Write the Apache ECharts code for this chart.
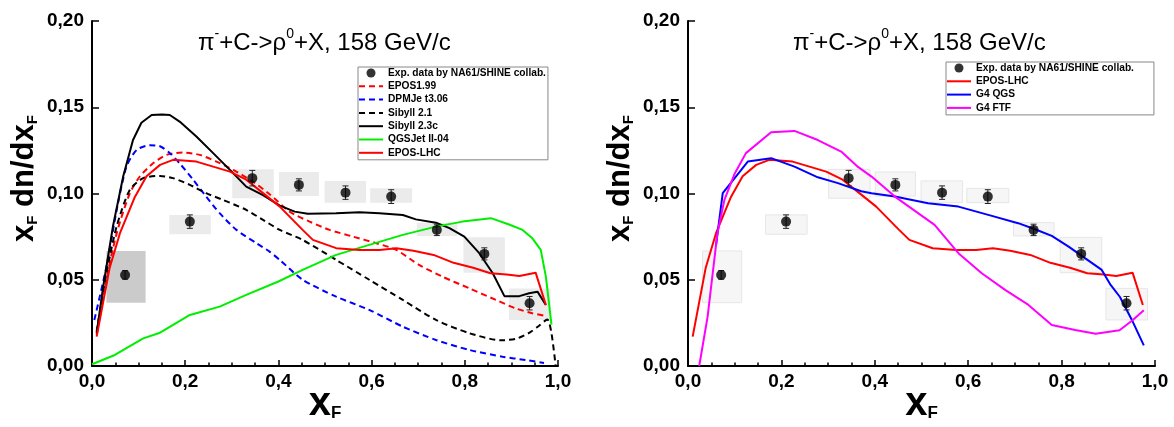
<!DOCTYPE html>
<html><head><meta charset="utf-8">
<script src="https://cdn.jsdelivr.net/npm/echarts@6/dist/echarts.min.js"></script>
<style>html,body{margin:0;padding:0;background:#fff}#c{width:1174px;height:427px}</style>
</head><body><div id="c"></div>
<script>
// ---------- data ----------
const expX   = [0.071, 0.21, 0.344, 0.444, 0.544, 0.642, 0.74, 0.842, 0.939];
const expY   = [0.0528, 0.0837, 0.1089, 0.105, 0.1005, 0.0982, 0.0789, 0.065, 0.0364];
const expErr = [0.0025, 0.0039, 0.0045, 0.0035, 0.0039, 0.004, 0.0033, 0.0035, 0.0039];
const boxXLo = [0.031, 0.166, 0.301, 0.401, 0.499, 0.597, 0.697, 0.797, 0.895];
const boxXHi = [0.115, 0.255, 0.390, 0.487, 0.588, 0.687, 0.784, 0.886, 0.984];
const boxYLo = [0.0367, 0.0764, 0.0973, 0.0985, 0.0947, 0.0947, 0.0754, 0.0541, 0.0267];
const boxYHi = [0.0667, 0.0876, 0.1140, 0.1125, 0.1073, 0.1030, 0.0831, 0.0746, 0.0450];

const epos199 = [[0.01,0.018],[0.031,0.05],[0.053,0.077],[0.081,0.1],[0.103,0.11],[0.131,0.1175],[0.16,0.1224],[0.195,0.1237],[0.231,0.1224],[0.267,0.1185],[0.303,0.1137],[0.345,0.1069],[0.381,0.0996],[0.424,0.0895],[0.467,0.0837],[0.51,0.0789],[0.56,0.075],[0.61,0.0712],[0.653,0.0673],[0.702,0.0586],[0.752,0.0518],[0.809,0.0451],[0.867,0.0383],[0.909,0.0334],[0.945,0.0306],[0.974,0.029]];
const dpmjet = [[0.005,0.0267],[0.031,0.0576],[0.053,0.0905],[0.074,0.1156],[0.096,0.1253],[0.124,0.128],[0.146,0.1274],[0.167,0.1234],[0.188,0.1175],[0.217,0.108],[0.245,0.0982],[0.274,0.0886],[0.31,0.0789],[0.353,0.0712],[0.381,0.0663],[0.403,0.0615],[0.452,0.05],[0.524,0.0402],[0.595,0.0325],[0.667,0.0228],[0.738,0.0151],[0.81,0.0093],[0.881,0.0054],[0.93,0.0035],[0.97,0.0018]];
const sibyll21 = [[0.01,0.02],[0.031,0.0538],[0.053,0.081],[0.081,0.102],[0.11,0.1089],[0.146,0.1102],[0.174,0.1089],[0.21,0.105],[0.245,0.1002],[0.281,0.0963],[0.331,0.0905],[0.367,0.0847],[0.403,0.0789],[0.452,0.0731],[0.524,0.0615],[0.595,0.05],[0.667,0.0383],[0.738,0.0267],[0.81,0.019],[0.878,0.0149],[0.91,0.0158],[0.94,0.0195],[0.96,0.0235],[0.977,0.027],[0.986,0.019],[0.995,0.0]];
const sibyll23 = [[0.01,0.019],[0.024,0.046],[0.045,0.081],[0.067,0.11],[0.088,0.131],[0.106,0.141],[0.128,0.1455],[0.15,0.1458],[0.167,0.1455],[0.188,0.1417],[0.224,0.133],[0.26,0.1234],[0.296,0.1137],[0.331,0.104],[0.367,0.099],[0.403,0.093],[0.435,0.0895],[0.463,0.0882],[0.524,0.0885],[0.574,0.0891],[0.617,0.0885],[0.667,0.0875],[0.695,0.085],[0.738,0.0831],[0.767,0.0799],[0.799,0.075],[0.831,0.0654],[0.86,0.0538],[0.885,0.0405],[0.917,0.0405],[0.938,0.0422],[0.956,0.0431],[0.974,0.0354]];
const qgsjet = [[0.0,0.001],[0.049,0.0064],[0.11,0.016],[0.146,0.0193],[0.174,0.0238],[0.21,0.0296],[0.274,0.0344],[0.331,0.0412],[0.4,0.049],[0.452,0.0557],[0.524,0.0644],[0.595,0.0702],[0.667,0.076],[0.738,0.0808],[0.795,0.0837],[0.856,0.0857],[0.895,0.082],[0.924,0.0789],[0.945,0.074],[0.963,0.0673],[0.974,0.0518],[0.986,0.024]];
const eposLhc = [[0.01,0.017],[0.024,0.037],[0.038,0.057],[0.06,0.077],[0.092,0.098],[0.117,0.11],[0.146,0.1166],[0.174,0.1195],[0.224,0.1185],[0.26,0.1156],[0.296,0.1127],[0.331,0.108],[0.367,0.1002],[0.403,0.0924],[0.424,0.0866],[0.452,0.0789],[0.474,0.0731],[0.524,0.0683],[0.574,0.0673],[0.617,0.0673],[0.653,0.0683],[0.69,0.0668],[0.733,0.0644],[0.776,0.0598],[0.818,0.057],[0.855,0.0538],[0.89,0.053],[0.917,0.0522],[0.952,0.0541],[0.974,0.0354]];
const g4qgs = [[0.06,0.07],[0.0744,0.1002],[0.128,0.1185],[0.178,0.1205],[0.228,0.1156],[0.278,0.1094],[0.321,0.106],[0.371,0.1013],[0.393,0.1002],[0.443,0.0982],[0.514,0.0944],[0.579,0.0924],[0.643,0.0876],[0.707,0.0828],[0.743,0.0793],[0.779,0.0754],[0.815,0.0692],[0.85,0.0625],[0.886,0.0557],[0.905,0.047],[0.925,0.04],[0.95,0.027],[0.976,0.012]];
const g4ftf = [[0.024,0.0],[0.042,0.0286],[0.063,0.077],[0.078,0.0963],[0.099,0.111],[0.124,0.1234],[0.178,0.1355],[0.228,0.1363],[0.278,0.131],[0.328,0.1243],[0.364,0.1154],[0.393,0.1098],[0.443,0.0982],[0.528,0.0818],[0.579,0.0654],[0.629,0.0538],[0.679,0.0441],[0.729,0.0354],[0.779,0.0238],[0.829,0.0209],[0.873,0.0187],[0.924,0.0207],[0.952,0.0265],[0.976,0.0323]];

const xTicks = [0, 0.2, 0.4, 0.6, 0.8, 1.0];
const yTicks = [0, 0.05, 0.1, 0.15, 0.2];
const expName = 'Exp. data by NA61/SHINE collab.';
const leftNames = [expName, 'EPOS1.99', 'DPMJe t3.06', 'Sibyll 2.1', 'Sibyll 2.3c', 'QGSJet II-04', 'EPOS-LHC'];
const rightNames = [expName, 'EPOS-LHC', 'G4 QGS', 'G4 FTF'];

// ---------- chart ----------
const FONT = '"Liberation Sans", Arial, sans-serif';
const chart = echarts.init(document.getElementById('c'), null, {renderer: 'canvas'});

function xAxis(gi) {
  return {
    type: 'value', gridIndex: gi, min: xTicks[0], max: xTicks[xTicks.length-1], interval: xTicks[1]-xTicks[0],
    name: '{b|x}{s|F}', nameLocation: 'middle', nameGap: 18, nameMoveOverlap: false,
    nameTextStyle: {rich: {
      b: {fontFamily: FONT, fontWeight: 'bold', fontSize: 40, lineHeight: 38, verticalAlign: 'top', color: '#000'},
      s: {fontFamily: FONT, fontWeight: 'bold', fontSize: 17, lineHeight: 17, padding: [37,0,0,0], verticalAlign: 'bottom', color: '#000'}
    }},
    axisLine: {show: true, onZero: false, lineStyle: {color: '#000', width: 2}},
    axisTick: {show: true, inside: true, length: 6, lineStyle: {color: '#000', width: 1.5}},
    minorTick: {show: true, splitNumber: 4, length: 3.5, lineStyle: {color: '#000', width: 1.5}},
    splitLine: {show: false},
    axisLabel: {fontFamily: FONT, fontWeight: 'bold', fontSize: 19, color: '#000', margin: 6,
      formatter: v => v.toFixed(1).replace('.', ',')}
  };
}
function yAxis(gi) {
  return {
    type: 'value', gridIndex: gi, min: yTicks[0], max: yTicks[yTicks.length-1], interval: yTicks[1]-yTicks[0],
    name: '{b|x}{s|F}{b| dn/dx}{s|F}', nameLocation: 'middle', nameGap: 52, nameRotate: 90,
    nameTextStyle: {padding: [0, 0, 0, 30], rich: {
      b: {fontFamily: FONT, fontWeight: 'bold', fontSize: 31, lineHeight: 31, verticalAlign: 'top', color: '#000'},
      s: {fontFamily: FONT, fontWeight: 'bold', fontSize: 15, lineHeight: 15, padding: [27,0,0,0], verticalAlign: 'bottom', color: '#000'}
    }},
    axisLine: {show: true, onZero: false, lineStyle: {color: '#000', width: 2}},
    axisTick: {show: true, inside: true, length: 7, lineStyle: {color: '#000', width: 1.5}},
    splitLine: {show: false},
    axisLabel: {fontFamily: FONT, fontWeight: 'bold', fontSize: 19, color: '#000', margin: 8,
      formatter: v => v.toFixed(2).replace('.', ',')}
  };
}
function lineSeries(name, data, color, dashed, gi) {
  return {type: 'line', name, data, xAxisIndex: gi, yAxisIndex: gi, showSymbol: false, symbol: 'none',
    smooth: dashed ? 0.25 : false, z: 3, silent: true,
    lineStyle: {color, width: 2, type: dashed ? [6, 4] : 'solid'}, itemStyle: {color}};
}
function boxSeries(gi, fillFn, stroke) {
  return {type: 'custom', xAxisIndex: gi, yAxisIndex: gi, silent: true, z: 1,
    encode: {x: [0, 2], y: [1, 3]},
    data: boxXLo.map((v, i) => [v, boxYLo[i], boxXHi[i], boxYHi[i], i]),
    renderItem: (params, api) => {
      const p1 = api.coord([api.value(0), api.value(3)]);
      const p2 = api.coord([api.value(2), api.value(1)]);
      return {type: 'rect', shape: {x: p1[0], y: p1[1], width: p2[0]-p1[0], height: p2[1]-p1[1]},
        style: {fill: fillFn(api.value(4)), stroke: stroke, lineWidth: stroke ? 1 : 0}};
    }};
}
function errSeries(gi) {
  return {type: 'custom', xAxisIndex: gi, yAxisIndex: gi, silent: true, z: 4,
    encode: {x: 0, y: [1, 2]},
    data: expX.map((v, i) => [v, expY[i]-expErr[i], expY[i]+expErr[i]]),
    renderItem: (params, api) => {
      const lo = api.coord([api.value(0), api.value(1)]);
      const hi = api.coord([api.value(0), api.value(2)]);
      const st = {stroke: '#222', lineWidth: 1};
      return {type: 'group', children: [
        {type: 'line', shape: {x1: lo[0], y1: lo[1], x2: hi[0], y2: hi[1]}, style: st},
        {type: 'line', shape: {x1: lo[0]-3, y1: lo[1], x2: lo[0]+3, y2: lo[1]}, style: st},
        {type: 'line', shape: {x1: hi[0]-3, y1: hi[1], x2: hi[0]+3, y2: hi[1]}, style: st}
      ]};
    }};
}
function expSeries(gi) {
  return {type: 'scatter', name: expName, xAxisIndex: gi, yAxisIndex: gi, z: 5, silent: true,
    symbol: 'circle', symbolSize: 10, itemStyle: {color: '#000'},
    data: expX.map((v, i) => [v, expY[i]])};
}
function legend(names, left, top, padRight) {
  return {data: names.map(n => n === expName ? n : {name: n, itemStyle: {opacity: 0, borderWidth: 0}}),
    orient: 'vertical', left, top, itemWidth: 24, itemHeight: 9, itemGap: 3.3,
    padding: [1, padRight, 2, 0], backgroundColor: '#fff', borderColor: '#888', borderWidth: 1, borderRadius: 0,
    selectedMode: false, align: 'left',
    textStyle: {fontFamily: FONT, fontWeight: 'bold', fontSize: 10.2, lineHeight: 10, color: '#000'}};
}
function title(left) {
  return {type: 'text', left: left, top: 27,
    style: {text: '{m|π}{p|-}{m|+C->ρ}{p|0}{m|+X, 158 GeV/c}',
      rich: {
        m: {fontFamily: FONT, fontSize: 24, lineHeight: 28, verticalAlign: 'bottom', fill: '#000'},
        p: {fontFamily: FONT, fontSize: 14, lineHeight: 14, verticalAlign: 'top', fill: '#000'}
      }}};
}

const option = {
  animation: false,
  backgroundColor: '#fff',
  grid: [
    {left: 92, right: 616, top: 21, bottom: 61, outerBoundsMode: 'none', containLabel: false},
    {left: 688, right: 19, top: 21, bottom: 61, outerBoundsMode: 'none', containLabel: false}
  ],
  xAxis: [xAxis(0), xAxis(1)],
  yAxis: [yAxis(0), yAxis(1)],
  legend: [legend(leftNames, 358, 67, 2), legend(rightNames, 946, 62, 20)],
  series: [
    boxSeries(0, i => i === 0 ? '#cbcbcb' : '#ebebeb', null),
    lineSeries('EPOS1.99', epos199, '#ff0000', true, 0),
    lineSeries('DPMJe t3.06', dpmjet, '#0000ff', true, 0),
    lineSeries('Sibyll 2.1', sibyll21, '#000000', true, 0),
    lineSeries('Sibyll 2.3c', sibyll23, '#000000', false, 0),
    lineSeries('QGSJet II-04', qgsjet, '#00ee00', false, 0),
    lineSeries('EPOS-LHC', eposLhc, '#ff0000', false, 0),
    errSeries(0),
    expSeries(0),
    boxSeries(1, i => '#f6f6f6', '#e6e6e6'),
    lineSeries('EPOS-LHC', eposLhc, '#ff0000', false, 1),
    lineSeries('G4 QGS', g4qgs, '#0000ff', false, 1),
    lineSeries('G4 FTF', g4ftf, '#ff00ff', false, 1),
    errSeries(1),
    expSeries(1)
  ]
};
chart.setOption(option);
chart.setOption({graphic: [title(198), title(793)]});
</script></body></html>
